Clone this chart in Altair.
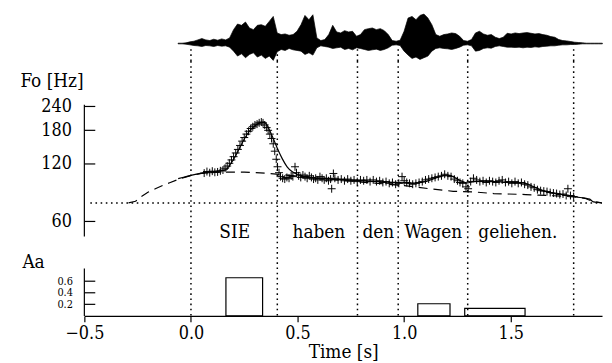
import altair as alt
import pandas as pd

FONT = "'DejaVu Serif Condensed', 'DejaVu Serif', 'Liberation Sans Narrow', 'DejaVu Sans Condensed', sans-serif"
X_DOMAIN = [-0.5, 1.928]
W = 522
H_WAVE, H_F0, H_AA = 52, 177, 80

# ---------------- data ----------------
# speech waveform envelope (arbitrary amplitude units), one sample every 0.0186 s from -0.0605 s
wave_upper = [0.01, 0.01, 0.02, 0.05, 0.07, 0.11, 0.15, 0.11, 0.09, 0.13,
              0.10, 0.14, 0.11, 0.17, 0.42, 0.59, 0.55, 0.65, 0.47, 0.42,
              0.55, 0.57, 0.52, 0.67, 0.82, 0.32, 0.27, 0.29, 0.25, 0.27,
              0.37, 0.57, 0.85, 0.72, 0.87, 0.17, 0.09, 0.12, 0.27, 0.55,
              0.35, 0.32, 0.39, 0.35, 0.37, 0.22, 0.27, 0.42, 0.45, 0.47,
              0.42, 0.45, 0.39, 0.27, 0.09, 0.07, 0.10, 0.37, 0.77, 0.82,
              0.72, 0.85, 0.89, 0.77, 0.57, 0.27, 0.22, 0.27, 0.29, 0.32,
              0.30, 0.22, 0.09, 0.07, 0.12, 0.32, 0.37, 0.29, 0.25, 0.27,
              0.19, 0.15, 0.19, 0.31, 0.29, 0.32, 0.30, 0.32, 0.33, 0.31,
              0.29, 0.30, 0.27, 0.25, 0.21, 0.19, 0.12, 0.09, 0.08, 0.06,
              0.04, 0.03, 0.02, 0.01, 0.01, 0.01, 0.01, 0.01]
wave_lower = [-0.01, -0.01, -0.02, -0.04, -0.06, -0.07, -0.09, -0.06, -0.07, -0.09,
              -0.06, -0.08, -0.07, -0.11, -0.23, -0.38, -0.31, -0.43, -0.33, -0.28,
              -0.41, -0.35, -0.45, -0.38, -0.51, -0.25, -0.18, -0.21, -0.15, -0.19,
              -0.21, -0.23, -0.33, -0.28, -0.35, -0.13, -0.07, -0.09, -0.11, -0.15,
              -0.13, -0.11, -0.18, -0.15, -0.19, -0.13, -0.15, -0.18, -0.21, -0.19,
              -0.17, -0.21, -0.18, -0.13, -0.05, -0.04, -0.06, -0.23, -0.35, -0.45,
              -0.41, -0.48, -0.43, -0.38, -0.23, -0.15, -0.13, -0.15, -0.16, -0.18,
              -0.15, -0.11, -0.05, -0.04, -0.07, -0.23, -0.21, -0.15, -0.13, -0.14,
              -0.09, -0.07, -0.09, -0.11, -0.11, -0.12, -0.11, -0.13, -0.11, -0.12,
              -0.10, -0.11, -0.09, -0.08, -0.07, -0.07, -0.05, -0.04, -0.04, -0.03,
              -0.03, -0.02, -0.01, -0.01, -0.01, -0.01, -0.01, -0.01]
wave_t0, wave_dt = -0.0605, 0.0186
wave_t = [round(wave_t0 + i * wave_dt, 4) for i in range(len(wave_upper))]

# word boundaries [s]
boundaries = [0.0, 0.405, 0.781, 0.972, 1.298, 1.795]
words = ["SIE", "haben", "den", "Wagen", "geliehen."]
word_t = [0.205, 0.600, 0.879, 1.137, 1.533]

# base frequency Fb [Hz] and its extent
fb = 75
fb_t = [-0.472, 1.928]

# phrase component (dashed)
phrase_t = [-0.293, -0.26, -0.233, -0.2, -0.167, -0.133, -0.1, -0.06, -0.03, 0.0,
            0.05, 0.1, 0.15, 0.2, 0.25, 0.3, 0.36, 0.45, 0.5, 0.6, 0.7, 0.8, 0.9,
            1.0, 1.116, 1.23, 1.33, 1.42, 1.57, 1.7, 1.8, 1.847, 1.884, 1.925]
phrase_f = [75.0, 76.5, 81.0, 85.5, 89.0, 92.5, 95.7, 99.5, 102.0, 104.3,
            107.0, 108.5, 108.8, 108.8, 108.7, 108.2, 107.2, 105.0, 103.5, 100.5, 98.5, 96.5, 94.5,
            92.5, 89.1, 86.3, 85.6, 84.0, 83.0, 81.8, 80.6, 79.3, 76.5, 75.0]

# model F0 contour (solid)
model_t = [-0.06, -0.03, 0.0, 0.05, 0.1, 0.14, 0.163, 0.186, 0.209, 0.233, 0.256, 0.279,
           0.302, 0.325, 0.34, 0.352, 0.372, 0.389, 0.405, 0.428, 0.451, 0.474, 0.498,
           0.53, 0.558, 0.637, 0.715, 0.791, 0.87, 0.947, 1.0, 1.056, 1.093, 1.13, 1.163,
           1.195, 1.215, 1.24, 1.27, 1.296, 1.326, 1.366, 1.43, 1.474, 1.552, 1.575, 1.6,
           1.645, 1.692, 1.738, 1.777, 1.8, 1.847, 1.87, 1.888, 1.925]
model_f = [100.5, 102.5, 104.5, 107.5, 109.3, 110.5, 112.0, 120.0, 132.0, 149.0, 166.0, 181.0,
           191.0, 197.5, 198.0, 195.0, 177.0, 160.0, 145.0, 128.0, 116.0, 109.5, 106.0,
           103.5, 102.0, 100.5, 99.3, 98.2, 97.2, 96.2, 95.6, 95.2, 96.5, 99.5, 102.5,
           104.8, 104.5, 101.5, 97.5, 95.5, 97.0, 97.5, 97.0, 96.4, 95.5, 94.5, 92.0,
           87.5, 84.6, 83.0, 82.0, 80.8, 79.5, 78.5, 76.0, 75.2]

# observed F0 (+)
obs_t = [0.062, 0.075, 0.088, 0.1, 0.112, 0.125, 0.138, 0.15, 0.16, 0.17, 0.18, 0.19, 0.2,
         0.21, 0.22, 0.23, 0.24, 0.25, 0.26, 0.27, 0.28, 0.29, 0.3, 0.31, 0.32, 0.33, 0.338,
         0.346, 0.355, 0.362, 0.37, 0.378, 0.386, 0.393, 0.4, 0.406, 0.413, 0.42, 0.43, 0.44,
         0.45, 0.46, 0.47, 0.478, 0.488, 0.495, 0.505, 0.515, 0.525, 0.535, 0.545, 0.555,
         0.565, 0.575, 0.585, 0.595, 0.605, 0.615, 0.625, 0.635, 0.645, 0.655, 0.66, 0.668,
         0.675, 0.69, 0.705, 0.72, 0.735, 0.75, 0.765, 0.78, 0.795, 0.81, 0.825, 0.84, 0.855,
         0.87, 0.885, 0.9, 0.915, 0.93, 0.945, 0.96, 0.975, 0.99, 1.0, 1.012, 1.025, 1.04,
         1.055, 1.07, 1.085, 1.1, 1.115, 1.13, 1.145, 1.16, 1.175, 1.19, 1.205, 1.22, 1.235,
         1.25, 1.262, 1.275, 1.29, 1.3, 1.312, 1.325, 1.34, 1.355, 1.37, 1.385, 1.4, 1.415,
         1.43, 1.445, 1.46, 1.475, 1.49, 1.505, 1.52, 1.535, 1.55, 1.565, 1.58, 1.595, 1.61,
         1.625, 1.64, 1.655, 1.67, 1.685, 1.7, 1.715, 1.73, 1.745, 1.76, 1.768, 1.78, 1.795]
obs_f = [107.5, 109.5, 108.0, 110.0, 108.5, 109.0, 110.5, 111.5, 114.0, 117.0, 121.0, 126.0, 131.0,
         137.0, 143.0, 150.0, 158.0, 165.0, 172.0, 178.0, 184.0, 188.0, 192.0, 194.0, 197.0, 199.0, 197.0,
         192.0, 186.0, 180.0, 172.0, 163.0, 153.0, 140.0, 127.0, 116.0, 108.0, 103.0, 101.0, 100.0,
         102.0, 101.0, 104.0, 103.0, 116.0, 108.0, 104.0, 102.0, 105.0, 103.0, 101.0, 104.0,
         102.0, 100.0, 101.0, 99.0, 103.0, 101.0, 99.0, 101.0, 98.0, 100.0, 89.0, 107.0,
         101.0, 99.0, 100.0, 98.0, 100.0, 98.0, 99.0, 97.0, 99.0, 98.0, 99.0, 97.0, 99.0,
         97.0, 98.0, 96.0, 97.0, 95.0, 96.0, 94.0, 95.0, 103.0, 98.0, 96.0, 95.0, 94.0,
         95.0, 96.0, 97.0, 99.0, 100.0, 101.0, 102.0, 103.0, 104.0, 106.0, 104.0, 103.0, 100.0,
         98.0, 96.0, 95.0, 91.0, 89.0, 97.0, 101.0, 99.0, 97.0, 98.0, 96.0, 98.0, 97.0,
         96.0, 98.0, 99.0, 96.0, 97.0, 95.0, 97.0, 95.0, 96.0, 94.0, 93.0, 91.0, 90.0,
         88.0, 87.0, 86.5, 86.0, 85.0, 84.5, 84.0, 83.0, 83.5, 82.0, 89.0, 82.0, 81.0]

# accent commands
acc_t0 = [0.164, 1.064, 1.284]
acc_t1 = [0.336, 1.215, 1.567]
acc_a = [0.66, 0.21, 0.13]

f0_ticks = [60, 120, 180, 240]
f0_axis_extent = [50, 245]
aa_ticks = [0.2, 0.4, 0.6]
aa_axis_extent = [0, 0.82]
x_ticks = [-0.5, 0.0, 0.5, 1.0, 1.5]

# ---------------- frames ----------------
wave_df = pd.DataFrame({"t": wave_t, "hi": wave_upper, "lo": wave_lower})
bnd_df = pd.DataFrame({"t": boundaries})
word_df = pd.DataFrame({"t": word_t, "w": words})
fb_df = pd.DataFrame({"t0": [fb_t[0]], "t1": [fb_t[1]], "f": [fb]})
phrase_df = pd.DataFrame({"t": phrase_t, "f": phrase_f})
model_df = pd.DataFrame({"t": model_t, "f": model_f})
obs_df = pd.DataFrame({"t": obs_t, "f": obs_f})
acc_df = pd.DataFrame({"t0": acc_t0, "t1": acc_t1, "a": acc_a})
f0tick_df = pd.DataFrame({"f": f0_ticks})
f0line_df = pd.DataFrame({"f": [f0_axis_extent[0]], "f2": [f0_axis_extent[1]]})
aatick_df = pd.DataFrame({"a": aa_ticks})
aaline_df = pd.DataFrame({"a": [aa_axis_extent[0]], "a2": [aa_axis_extent[1]]})

# ---------------- scales / axes ----------------
X_SCALE = alt.Scale(domain=X_DOMAIN, nice=False, zero=False)
W_SCALE = alt.Scale(domain=[-0.53, 1.03], nice=False, zero=False)
F_SCALE = alt.Scale(type="log", domain=[50, 415], nice=False, zero=False)
A_SCALE = alt.Scale(domain=[0, 1.372], nice=False, zero=False)

LBL = dict(labelFont=FONT, labelFontSize=18, labelColor="black",
           titleFont=FONT, titleFontSize=19, titleFontWeight="normal", titleColor="black",
           grid=False)
F_AXIS = alt.Axis(values=f0_ticks, format="d", domain=False, ticks=False, tickSize=0,
                  labelPadding=13, title="Fo [Hz]", titleAngle=0, titleAlign="left",
                  titleBaseline="middle", titleX=-65, titleY=20, **LBL)
A_LBL = dict(LBL, labelFontSize=11)
A_AXIS = alt.Axis(values=aa_ticks, format=".1f", domain=False, ticks=False, tickSize=0,
                  labelPadding=12, labelOverlap=False, title="Aa", titleAngle=0,
                  titleAlign="left", titleBaseline="middle", titleX=-63, titleY=25, **A_LBL)
X_AXIS = alt.Axis(values=x_ticks, format=".1f", domain=True, domainColor="black",
                  domainWidth=1.2, ticks=True, tickColor="black", tickSize=6, tickWidth=1.2,
                  labelPadding=3, labelFlush=False, title="Time [s]", titlePadding=0, **LBL)

DOT = dict(color="black", strokeWidth=1.5, strokeDash=[1.6, 3.6])


def xq(field, axis=None):
    return alt.X(field, type="quantitative", scale=X_SCALE, axis=axis)


def yf(field):
    return alt.Y(field, type="quantitative", scale=F_SCALE, axis=F_AXIS)


def ya(field):
    return alt.Y(field, type="quantitative", scale=A_SCALE, axis=A_AXIS)


# ---------------- waveform panel ----------------
wave_area = alt.Chart(wave_df).mark_area(color="black", stroke="black", strokeWidth=0.7,
                                         interpolate="linear").encode(
    x=xq("t"), y=alt.Y("hi", type="quantitative", scale=W_SCALE, axis=None), y2="lo")
wave_dots = alt.Chart(bnd_df).mark_rule(**DOT).encode(
    x=xq("t"), y=alt.value(40), y2=alt.value(H_WAVE))
wave = alt.layer(wave_area, wave_dots).properties(width=W, height=H_WAVE)

# ---------------- F0 panel ----------------
f0_dots = alt.Chart(bnd_df).mark_rule(**DOT).encode(
    x=xq("t"), y=alt.value(0), y2=alt.value(H_F0))
fb_line = alt.Chart(fb_df).mark_rule(**DOT).encode(x=xq("t0"), x2="t1", y=yf("f"))
phrase = alt.Chart(phrase_df).mark_line(color="black", strokeWidth=1.2,
                                        strokeDash=[9, 6]).encode(x=xq("t"), y=yf("f"))
model = alt.Chart(model_df).mark_line(color="black", strokeWidth=1.2,
                                      interpolate="monotone").encode(x=xq("t"), y=yf("f"))
obs = alt.Chart(obs_df).mark_point(shape="M-1,0L1,0M0,-1L0,1", size=64, filled=False,
                                   stroke="black", strokeWidth=1, opacity=1).encode(
    x=xq("t"), y=yf("f"))
f0_line = alt.Chart(f0line_df).mark_rule(color="black", strokeWidth=1.2).encode(
    x=alt.value(0), y=yf("f"), y2="f2")
f0_tk = alt.Chart(f0tick_df).mark_rule(color="black", strokeWidth=1.2).encode(
    x=alt.value(0), x2=alt.value(11), y=yf("f"))
word_txt = alt.Chart(word_df).mark_text(font=FONT, fontSize=19, color="black",
                                        baseline="middle", align="center").encode(
    x=xq("t"), y=alt.value(172), text="w")
f0 = alt.layer(f0_line, f0_tk, f0_dots, fb_line, phrase, model, obs, word_txt).properties(
    width=W, height=H_F0)

# ---------------- Aa panel ----------------
aa_dots = alt.Chart(bnd_df).mark_rule(**DOT).encode(
    x=xq("t", X_AXIS), y=alt.value(0), y2=alt.value(H_AA))
aa_rect = alt.Chart(acc_df).mark_rect(filled=False, stroke="black", strokeWidth=1.2).encode(
    x=xq("t0", X_AXIS), x2="t1", y=ya("a"), y2=alt.datum(0))
aa_line = alt.Chart(aaline_df).mark_rule(color="black", strokeWidth=1.2).encode(
    x=alt.value(0), y=ya("a"), y2="a2")
aa_tk = alt.Chart(aatick_df).mark_rule(color="black", strokeWidth=1.2).encode(
    x=alt.value(0), x2=alt.value(11), y=ya("a"))
aa = alt.layer(aa_dots, aa_rect, aa_line, aa_tk).properties(width=W, height=H_AA)

chart = alt.vconcat(wave, f0, aa, spacing=0, bounds="flush").properties(
    padding={"left": 12, "top": 0, "right": 0, "bottom": 0},
    background="white",
).configure_view(strokeWidth=0)

chart.save("out.html", embed_options={"renderer": "svg", "actions": False})
